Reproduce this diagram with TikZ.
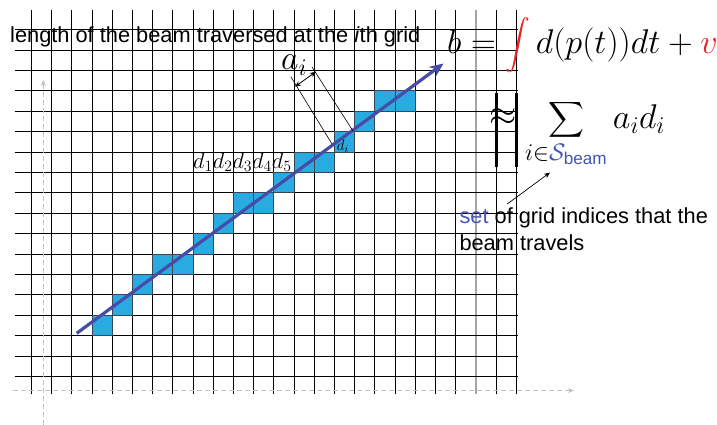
\RequirePackage{fix-cm}
\documentclass[tikz,border=0pt]{standalone}
\usepackage{amsmath}
\usepackage{fontspec}
\newfontfamily\arialfont{Liberation Sans}
\setsansfont{Liberation Sans}
\usetikzlibrary{arrows.meta}
\definecolor{cellblue}{RGB}{41,171,226}
\definecolor{beamblue}{RGB}{71,76,166}
\definecolor{setblue}{RGB}{68,84,180}
\definecolor{axisgray}{RGB}{192,192,192}
\definecolor{redf}{RGB}{232,32,32}
\definecolor{cellborder}{RGB}{55,70,80}
\definecolor{midgray}{RGB}{165,165,165}
\begin{document}
\begin{tikzpicture}[x=1pt,y=-1pt,
  declare function={gx(\i)=round(31+20.2*\i)+0.5; gy(\j)=round(29.3+20.4*\j)+0.5;},
  gridline/.style={line width=1.3pt,black},
  thickgrid/.style={line width=2.2pt,black},
  grayline/.style={line width=2pt,midgray},
  cellbox/.style={fill=cellblue,draw=cellborder,line width=1pt},
  axisarrow/.style={axisgray,line width=1pt,dash pattern=on 5pt off 3pt,-{Stealth[length=6pt,width=5pt]}},
  beamarrow/.style={beamblue,line width=3.2pt,-{Stealth[length=14pt,width=12pt]}},
  thinline/.style={black,line width=0.6pt},
  thinarrow/.style={black,line width=0.7pt,-{Stealth[length=6pt,width=5pt]}},
  dblarrow/.style={black,line width=0.8pt,{Stealth[length=6pt,width=5pt]}-{Stealth[length=6pt,width=5pt]}},
  sanslabel/.style={inner sep=0pt,font=\arialfont\fontsize{21.8}{26.7}\selectfont},
  mathlabel/.style={inner sep=0pt,font=\fontsize{34.3}{40}\selectfont}]
\useasboundingbox (0,0) rectangle (717,425);
% dashed axes
\coordinate (vaxB) at (43.3,425);
\coordinate (vaxT) at (43.3,80);
\coordinate (haxL) at (13,390.5);
\coordinate (haxR) at (574,390.5);
% grid
\foreach \i in {0,...,24}{
  \ifnum\i=22\relax\else
  \draw[gridline] ({gx(\i)},10) -- ({gx(\i)},394);
  \fi}
\draw[grayline] ({gx(22)},10) -- ({gx(22)},394);
\foreach \j in {0,...,17}
  \draw[gridline] (15,{gy(\j)}) -- (518,{gy(\j)});
\draw[thickgrid] ({gx(23)},93) -- ({gx(23)},167);
\draw[thickgrid] ({gx(24)},93) -- ({gx(24)},167);
\draw[axisarrow] (vaxB) -- (vaxT);
\draw[axisarrow] (haxL) -- (haxR);
% cells
\foreach \c/\r in {3/14,4/13,5/12,6/11,7/11,8/10,9/9,10/8,11/8,12/7,13/6,14/6,15/5,16/4,17/3,18/3}
  \draw[cellbox] ({gx(\c)},{gy(\r)}) rectangle ({gx(\c+1)},{gy(\r+1)});
% beam
\coordinate (beamS) at (76.7,333.3);
\coordinate (beamE) at (443.5,63.5);
\draw[beamarrow] (beamS) -- (beamE);
% a_i annotation
\coordinate (l1a) at (291,77);
\coordinate (l1b) at (332,144);
\coordinate (l2a) at (312,67);
\coordinate (l2b) at (353,131);
\draw[thinline] (l1a) -- (l1b);
\draw[thinline] (l2a) -- (l2b);
\coordinate (ai1) at (295,86.7);
\coordinate (ai2) at (316,71.7);
\draw[dblarrow] (ai1) -- (ai2);
\node[inner sep=0pt,anchor=base west,font=\fontsize{34}{40}\selectfont] (ailabel) at (281,70) {$a_i$};
\node[inner sep=0pt,anchor=base west,font=\fontsize{15}{18}\selectfont] (dilabel) at (336.7,150) {$d_i$};
\node[inner sep=0pt,anchor=base west,font=\fontsize{22.5}{26}\selectfont] (dlabels) at (193,168) {$d_1d_2d_3d_4d_5$};
% texts
\node[sanslabel,anchor=base west] (lenlabel) at (10,42.7) {length of the beam traversed at the \textit{i}th grid};
\node[mathlabel,anchor=base west] (eqone) at (447,53.3) {$\displaystyle b = \color{redf}\int\color{black} d(p(t))dt + \color{redf}v$};
\node[inner sep=0pt,font=\fontsize{35}{40}\selectfont] (approxsym) at (503,117) {$\approx$};
\node[mathlabel,anchor=base west] (sumf) at (525,128.3) {$\displaystyle \sum_{i\in{\color{setblue}\mathcal{S}_{\textsf{beam}}}} a_i d_i$};
\node[sanslabel,anchor=north west,align=left] (settext) at (459.3,207.7) {{\color{setblue}set} of grid indices that the\\beam travels};
\coordinate (setarrS) at (507.3,204);
\coordinate (setarrE) at (550,172.5);
\draw[thinarrow] (setarrS) -- (setarrE);
\end{tikzpicture}
\end{document}
